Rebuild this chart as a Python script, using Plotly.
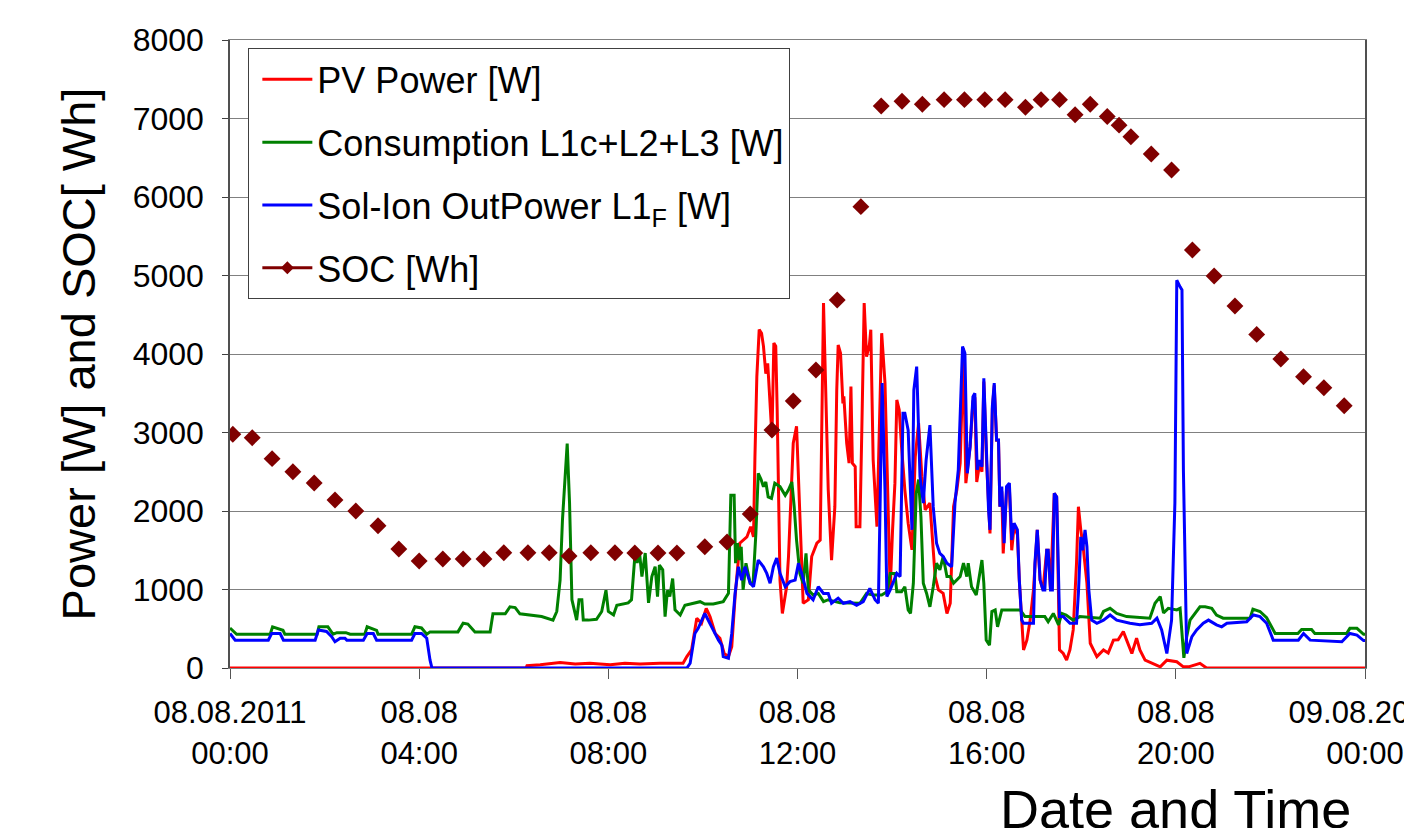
import plotly.graph_objects as go

FONT = "Liberation Sans, Arial, sans-serif"

# ---------------- data (time in hours since 08.08.2011 00:00) ----------------
pv_hours = [0.00, 6.26, 6.28, 6.56, 6.98, 7.30, 7.61, 8.04, 8.35, 8.67, 9.09, 9.58, 9.66, 9.76, 9.87, 9.97,
            10.07, 10.15, 10.26, 10.36, 10.45, 10.54, 10.61, 10.68, 10.78, 10.93, 11.01, 11.07, 11.10, 11.14,
            11.19, 11.24, 11.28, 11.33, 11.37, 11.42, 11.46, 11.50, 11.54, 11.57, 11.59, 11.63, 11.68, 11.77,
            11.81, 11.91, 11.98, 12.05, 12.12, 12.23, 12.30, 12.41, 12.48, 12.55, 12.62, 12.65, 12.72, 12.79,
            12.83, 12.86, 12.91, 12.96, 12.98, 13.04, 13.09, 13.13, 13.16, 13.22, 13.24, 13.32, 13.36, 13.41,
            13.46, 13.52, 13.55, 13.60, 13.68, 13.73, 13.78, 13.85, 13.90, 13.96, 14.01, 14.06, 14.10, 14.15,
            14.20, 14.27, 14.34, 14.42, 14.49, 14.56, 14.63, 14.70, 14.80, 14.91, 14.98, 15.08, 15.16, 15.23,
            15.30, 15.37, 15.44, 15.51, 15.56, 15.65, 15.71, 15.75, 15.79, 15.85, 15.90, 15.94, 16.00, 16.04,
            16.07, 16.12, 16.16, 16.21, 16.25, 16.28, 16.32, 16.35, 16.42, 16.48, 16.53, 16.58, 16.65, 16.69,
            16.74, 16.78, 16.85, 16.92, 16.99, 17.02, 17.07, 17.13, 17.19, 17.27, 17.30, 17.35, 17.43, 17.48,
            17.54, 17.62, 17.69, 17.76, 17.83, 17.90, 17.94, 17.99, 18.04, 18.12, 18.19, 18.33, 18.47, 18.57,
            18.68, 18.78, 18.89, 18.96, 19.07, 19.17, 19.24, 19.35, 19.52, 19.67, 19.81, 20.02, 20.16, 20.27,
            20.51, 20.65, 24.00]
pv_watts = [0, 0, 30, 40, 70, 50, 60, 40, 60, 50, 60, 60, 145, 230, 635, 570,
            760, 655, 440, 380, 185, 145, 270, 910, 1590, 1670, 1800, 1670, 2690, 3710,
            4310, 4265, 4100, 3750, 3880, 3330, 2950, 4140, 4100, 3300, 2400, 1120, 695, 1035,
            1420, 2865, 3080, 1885, 825, 870, 1420, 1590, 1630, 4650, 3030, 2270, 1375, 2055,
            3540, 4115, 4010, 3370, 3460, 2865, 2610, 3585, 2610, 2565, 1800, 1800, 3030, 4650,
            3965, 4115, 4310, 2650, 1800, 2990, 4265, 3630, 2270, 995, 1760, 2355, 3415, 3290,
            2820, 2270, 1845, 1505, 2690, 3120, 2440, 2015, 2100, 1165, 995, 950, 695, 825,
            2055, 2270, 2610, 4070, 2355, 2820, 3400, 3450, 2370, 2600, 2500, 3650, 2600, 1990,
            1715, 3300, 3600, 2900, 2900, 2055, 2250, 1460, 2250, 2300, 1500, 1800, 1700, 1120,
            610, 230, 355, 610, 995, 1335, 1760, 1120, 995, 1500, 1500, 995, 2225, 2180,
            230, 185, 100, 230, 485, 1335, 2055, 1760, 1545, 1080, 315, 145, 230, 190,
            355, 360, 465, 355, 185, 380, 230, 100, 60, 15, 100, 80, 15, 15,
            60, 0, 0]

cons_hours = [0.00, 0.14, 0.85, 0.90, 1.12, 1.16, 1.84, 1.88, 2.07, 2.18, 2.26, 2.45, 2.54, 2.85, 2.90, 3.10,
              3.13, 3.84, 3.91, 4.05, 4.16, 4.23, 4.82, 4.93, 5.03, 5.18, 5.50, 5.56, 5.82, 5.92, 6.03, 6.13,
              6.59, 6.83, 6.91, 6.98, 7.03, 7.08, 7.13, 7.18, 7.23, 7.33, 7.38, 7.44, 7.47, 7.58, 7.75, 7.86,
              7.95, 8.00, 8.11, 8.18, 8.42, 8.49, 8.56, 8.61, 8.66, 8.71, 8.78, 8.85, 8.92, 8.99, 9.04, 9.08,
              9.15, 9.20, 9.25, 9.30, 9.36, 9.41, 9.52, 9.62, 9.80, 9.94, 10.04, 10.22, 10.43, 10.54, 10.59,
              10.66, 10.69, 10.73, 10.77, 10.81, 10.85, 10.91, 11.00, 11.06, 11.12, 11.17, 11.23, 11.28, 11.33,
              11.38, 11.45, 11.52, 11.63, 11.74, 11.81, 11.88, 11.93, 11.98, 12.05, 12.12, 12.18, 12.23, 12.33,
              12.44, 12.55, 12.65, 12.90, 13.32, 13.46, 13.60, 13.78, 13.89, 13.96, 14.06, 14.10, 14.20, 14.27,
              14.34, 14.39, 14.45, 14.51, 14.56, 14.61, 14.66, 14.73, 14.80, 14.87, 14.94, 15.01, 15.08, 15.16,
              15.23, 15.30, 15.44, 15.51, 15.58, 15.61, 15.68, 15.78, 15.82, 15.90, 15.94, 15.99, 16.06, 16.11,
              16.18, 16.23, 16.32, 16.71, 16.81, 17.23, 17.30, 17.41, 17.52, 17.59, 17.68, 17.83, 17.97, 18.19,
              18.40, 18.47, 18.61, 18.75, 18.96, 19.45, 19.56, 19.67, 19.74, 19.84, 20.02, 20.09, 20.17, 20.23,
              20.30, 20.51, 20.62, 20.76, 20.86, 21.00, 21.57, 21.63, 21.78, 21.92, 22.03, 22.10, 22.58, 22.66,
              22.87, 22.94, 23.61, 23.68, 23.83, 23.97, 24.00]
cons_watts = [510, 430, 430, 525, 480, 430, 430, 525, 525, 430, 450, 450, 430, 430, 525, 480,
              430, 430, 525, 510, 430, 460, 460, 570, 560, 460, 460, 690, 690, 780, 770, 690,
              655, 610, 720, 1120, 1885, 2400, 2860, 2100, 870, 610, 870, 870, 610, 610, 620, 720,
              990, 720, 675, 800, 830, 870, 1420, 1340, 1465, 1165, 1465, 830, 1165, 1290, 910, 1310,
              1250, 655, 990, 910, 1140, 740, 675, 800, 825, 845, 815, 815, 845, 950, 2200,
              2200, 1335, 1590, 1375, 1545, 995, 1335, 1080, 1080, 1715, 2480, 2400, 2310, 2370,
              2180, 2160, 2355, 2310, 2200, 2270, 2370, 2055, 1630, 1205, 1080, 1460, 995, 930,
              950, 845, 870, 830, 825, 950, 930, 930, 970, 1205, 1205, 970, 970, 1035,
              740, 695, 1080, 2225, 2400, 1930, 1080, 950, 780, 1035, 1335, 1250, 1420, 1165,
              1165, 1080, 1165, 1335, 1165, 1335, 1035, 930, 1080, 1375, 1080, 355, 290, 720,
              740, 525, 740, 740, 655, 655, 590, 695, 550, 695, 675, 610, 655, 640,
              635, 720, 760, 695, 655, 635, 825, 910, 700, 760, 740, 760, 130, 400,
              610, 780, 780, 760, 675, 635, 635, 750, 720, 640, 525, 440, 440, 490,
              490, 440, 440, 505, 505, 430, 430]

solion_hours = [0.00, 0.11, 0.81, 0.88, 1.06, 1.13, 1.80, 1.87, 2.04, 2.15, 2.22, 2.33, 2.43, 2.47, 2.82, 2.90,
                3.03, 3.10, 3.84, 3.91, 4.05, 4.16, 4.23, 4.27, 9.66, 9.73, 9.83, 9.90, 10.04, 10.11, 10.19,
                10.26, 10.33, 10.40, 10.43, 10.54, 10.61, 10.68, 10.75, 10.82, 10.89, 11.00, 11.07, 11.17, 11.28,
                11.35, 11.42, 11.49, 11.56, 11.63, 11.74, 11.84, 11.95, 12.02, 12.09, 12.20, 12.33, 12.44, 12.55,
                12.65, 12.72, 12.86, 12.97, 13.11, 13.25, 13.39, 13.53, 13.64, 13.71, 13.74, 13.79, 13.85, 13.89,
                13.96, 14.10, 14.17, 14.23, 14.27, 14.34, 14.42, 14.46, 14.52, 14.59, 14.66, 14.72, 14.80, 14.87,
                14.94, 15.01, 15.08, 15.16, 15.26, 15.33, 15.40, 15.49, 15.54, 15.59, 15.65, 15.71, 15.75, 15.80,
                15.85, 15.90, 15.94, 16.00, 16.04, 16.07, 16.12, 16.16, 16.21, 16.25, 16.28, 16.32, 16.37, 16.42,
                16.48, 16.53, 16.58, 16.65, 16.69, 16.74, 16.78, 16.99, 17.02, 17.07, 17.13, 17.19, 17.23, 17.27,
                17.30, 17.35, 17.39, 17.43, 17.48, 17.54, 17.62, 17.76, 17.90, 17.94, 17.99, 18.03, 18.08, 18.12,
                18.16, 18.22, 18.33, 18.47, 18.61, 18.75, 19.03, 19.24, 19.49, 19.60, 19.70, 19.81, 19.91, 19.98,
                20.02, 20.09, 20.13, 20.16, 20.23, 20.34, 20.44, 20.58, 20.69, 20.86, 20.97, 21.08, 21.50, 21.64,
                21.78, 21.92, 22.06, 22.59, 22.70, 22.84, 23.51, 23.68, 23.83, 23.97, 24.00]
solion_watts = [440, 355, 355, 440, 440, 355, 355, 485, 465, 400, 335, 380, 380, 355, 355, 440,
                440, 355, 355, 440, 440, 380, 100, 0, 0, 60, 440, 505, 695, 610, 505,
                420, 355, 290, 145, 125, 440, 950, 1290, 1120, 1290, 1080, 1035, 1375, 1290,
                1205, 1080, 1290, 1400, 1205, 1035, 1100, 1120, 1335, 1205, 950, 870, 1035, 950,
                950, 825, 890, 825, 845, 800, 845, 1015, 870, 825, 1845, 3630, 2270, 910,
                995, 1205, 1165, 3245, 3245, 3030, 1760, 3540, 3840, 2440, 2100, 2650, 3095, 2055,
                1590, 1460, 1420, 1335, 1290, 2100, 2525, 4095, 4010, 2480, 2820, 3455, 3500, 2525,
                2650, 2565, 3690, 2610, 2015, 1760, 3330, 3630, 2905, 2905, 2055, 2310, 1590, 2310,
                2355, 1630, 1845, 1760, 1120, 610, 570, 570, 1335, 1760, 1120, 995, 995, 1500,
                1500, 995, 995, 2225, 2180, 655, 655, 570, 570, 950, 1670, 1500, 1760, 1545,
                995, 610, 570, 610, 675, 610, 570, 550, 570, 635, 485, 185, 610, 2100,
                4940, 4855, 4815, 2525, 185, 400, 485, 570, 610, 550, 525, 570, 590, 675,
                655, 570, 355, 355, 440, 355, 335, 440, 420, 350, 350]

soc_hours = [0.06, 0.47, 0.89, 1.33, 1.78, 2.22, 2.66, 3.13, 3.57, 4.00, 4.50, 4.93, 5.37, 5.79, 6.30, 6.75,
             7.17, 7.63, 8.14, 8.56, 9.05, 9.45, 10.04, 10.51, 11.00, 11.46, 11.91, 12.39, 12.84, 13.34,
             13.77, 14.21, 14.64, 15.10, 15.53, 15.96, 16.39, 16.82, 17.15, 17.54, 17.87, 18.19, 18.55, 18.80,
             19.05, 19.48, 19.91, 20.35, 20.81, 21.25, 21.71, 22.22, 22.70, 23.13, 23.56]
soc_wh = [2977, 2934, 2667, 2500, 2357, 2140, 2000, 1813, 1516, 1363, 1388, 1388, 1388, 1469, 1469, 1469,
          1427, 1469, 1469, 1465, 1465, 1465, 1545, 1605, 1962, 3032, 3401, 3796, 4688, 5877,
          7159, 7219, 7181, 7240, 7240, 7240, 7240, 7143, 7240, 7240, 7047, 7181, 7025, 6915,
          6768, 6548, 6344, 5325, 4994, 4611, 4250, 3936, 3711, 3571, 3341]

tick_hours = [0, 4, 8, 12, 16, 20, 24]
tick_labels = ["08.08.2011<br>00:00", "08.08<br>04:00", "08.08<br>08:00", "08.08<br>12:00",
               "08.08<br>16:00", "08.08<br>20:00", "09.08.2011<br>00:00"]

# ---------------- figure ----------------
LW = 3.0
fig = go.Figure()
fig.add_trace(go.Scatter(x=pv_hours, y=pv_watts, mode="lines", name="PV Power [W]",
                         legendgroup="a", line=dict(color="#FF0000", width=LW)))
fig.add_trace(go.Scatter(x=cons_hours, y=cons_watts, mode="lines", name="Consumption L1c+L2+L3 [W]",
                         legendgroup="b", line=dict(color="#008000", width=LW)))
fig.add_trace(go.Scatter(x=solion_hours, y=solion_watts, mode="lines",
                         name="Sol-Ion OutPower L1<sub>F</sub> [W]",
                         legendgroup="c", line=dict(color="#0000FF", width=LW)))
fig.add_trace(go.Scatter(x=soc_hours, y=soc_wh, mode="markers", name="SOC [Wh]", showlegend=False,
                         legendgroup="d",
                         marker=dict(symbol="diamond", size=13, color="#800000")))
fig.add_trace(go.Scatter(x=[None], y=[None], mode="lines+markers", name="SOC [Wh]", legendgroup="d",
                         line=dict(color="#800000", width=LW),
                         marker=dict(symbol="diamond", size=10, color="#800000")))

fig.update_layout(
    width=1404, height=820,
    margin=dict(l=222, r=47, t=32, b=160, autoexpand=False),
    paper_bgcolor="white", plot_bgcolor="white",
    font=dict(family=FONT, color="black"),
    showlegend=True,
    legend=dict(x=0.0159, y=0.987, xanchor="left", yanchor="top",
                bgcolor="white", bordercolor="#404040", borderwidth=1.3,
                font=dict(size=36, family=FONT, color="black"),
                itemwidth=50, tracegroupgap=13, traceorder="grouped", indentation=8),
    xaxis=dict(range=[0, 24], tickmode="array", tickvals=tick_hours, ticktext=tick_labels,
               tickfont=dict(size=31, family=FONT, color="black"),
               ticks="outside", ticklen=10, tickcolor="#555555", ticklabelstandoff=7,
               ticklabeloverflow="allow", automargin=False,
               showgrid=False, zeroline=False,
               showline=True, linecolor="#808080", linewidth=1.3, mirror=True),
    yaxis=dict(range=[0, 8000], dtick=1000, tick0=0, automargin=False,
               tickfont=dict(size=32, family=FONT, color="black"),
               ticks="outside", ticklen=6, tickcolor="#404040", ticklabelstandoff=12,
               showgrid=True, gridcolor="#808080", gridwidth=1.3, zeroline=False,
               showline=True, linecolor="#505050", linewidth=1.5, mirror=True,
               title=dict(text="Power [W] and SOC[ Wh]", font=dict(size=47, family=FONT, color="black"),
                          standoff=22)),
    annotations=[dict(text="Date and Time", xref="paper", yref="paper", x=0.8326, y=-0.2253,
                      xanchor="center", yanchor="middle", showarrow=False,
                      font=dict(size=54, family=FONT, color="black"))],
)

fig.write_html("out.html")
